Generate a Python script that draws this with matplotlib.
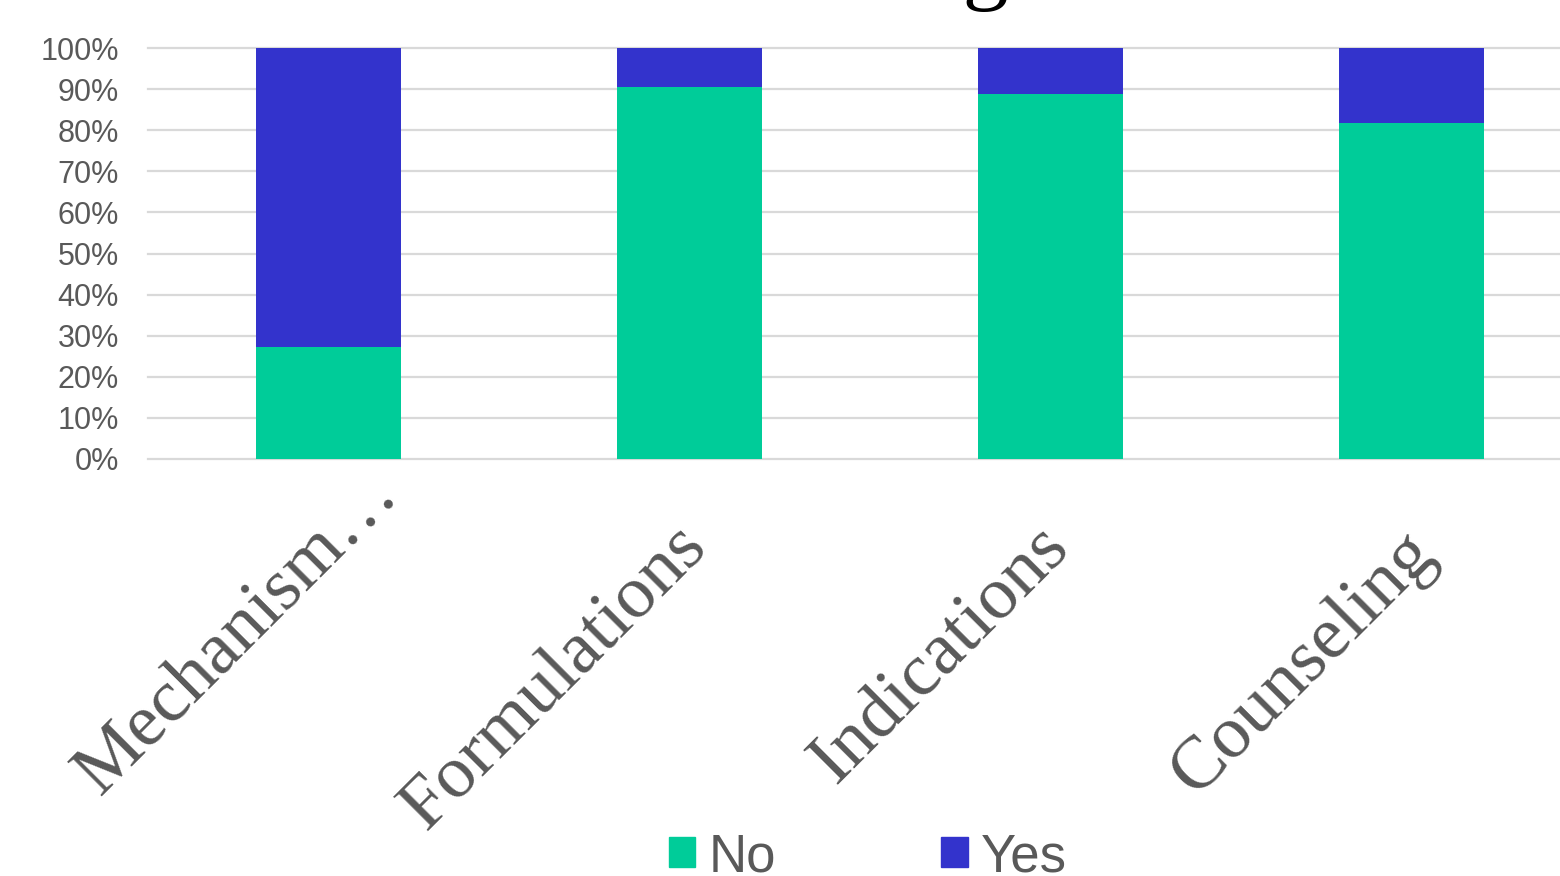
import numpy as np
import matplotlib.pyplot as plt
from matplotlib.transforms import ScaledTranslation
from matplotlib.patches import Patch

categories = ['Mechanism\u2026', 'Formulations', 'Indications', 'Counseling']
no_share = [0.272, 0.905, 0.888, 0.817]
yes_share = [0.728, 0.095, 0.112, 0.183]
yticks = [0, 0.1, 0.2, 0.3, 0.4, 0.5, 0.6, 0.7, 0.8, 0.9, 1.0]

green = '#00CC99'
blue = '#3333CC'
grey = '#595959'

fig = plt.figure(figsize=(15.6, 8.76), dpi=100)
# plot area runs off the right edge, like the source
ax = fig.add_axes([148 / 1560, 417 / 876, 1444 / 1560, 411 / 876])

x = np.arange(len(categories))
ax.bar(x, no_share, width=0.4, color=green, zorder=3)
ax.bar(x, yes_share, width=0.4, bottom=no_share, color=blue, zorder=3)

ax.set_xlim(-0.5, len(categories) - 0.5)
ax.set_ylim(0, 1)
ax.set_yticks(yticks)
ax.set_yticklabels(['%d%%' % round(v * 100) for v in yticks],
                   fontsize=22, color=grey, family='Liberation Sans')
ax.tick_params(axis='y', length=0, pad=21)
ax.set_xticks([])
for v in yticks:
    ax.axhline(v, color='#d9d9d9', linewidth=1.6, zorder=1, clip_on=False)
for s in ax.spines.values():
    s.set_visible(False)

# rotated category labels (baseline end placed below the tick)
offsets = {0: (73, -37), 1: (20, -90), 2: (20, -90), 3: (26, -96)}
for i, lab in enumerate(categories):
    dx, dy = offsets[i]
    tr = ax.get_xaxis_transform() + ScaledTranslation(dx / 100, dy / 100, fig.dpi_scale_trans)
    ax.text(i, 0, lab, transform=tr, rotation=45, rotation_mode='anchor',
            ha='right', va='baseline', fontsize=54, color=grey,
            family='Liberation Serif')

# title mostly above the canvas, only the descender shows
fig.text(1049 / 1560, 1.008, 'Knowledge', ha='right', va='baseline',
         fontsize=66, family='Liberation Serif', color='black')

handles = [Patch(color=green, label='No'), Patch(color=blue, label='Yes')]
leg = fig.legend(handles=handles, loc='center', bbox_to_anchor=(868 / 1560, 1 - 857 / 876),
                 ncol=2, frameon=False, handlelength=0.5, handleheight=0.5,
                 handletextpad=0.25, columnspacing=3.13,
                 prop={'family': 'Liberation Sans', 'size': 38})
for t in leg.get_texts():
    t.set_color(grey)

fig.savefig('out.png', dpi=100)
